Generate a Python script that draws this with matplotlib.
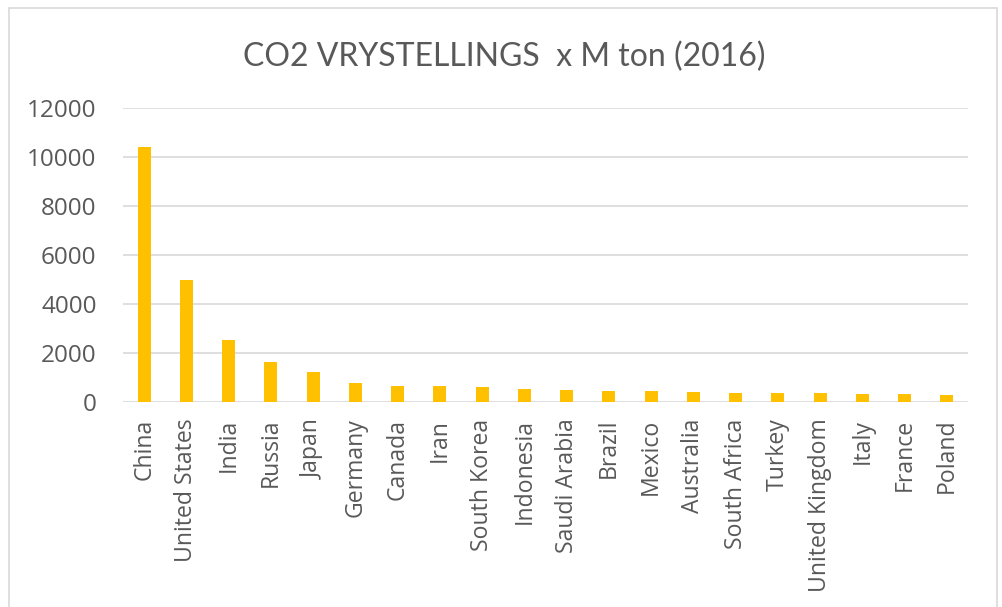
import matplotlib
matplotlib.use("Agg")
import matplotlib.pyplot as plt
from matplotlib.patches import Rectangle

countries = ["China", "United States", "India", "Russia", "Japan", "Germany",
             "Canada", "Iran", "South Korea", "Indonesia", "Saudi Arabia",
             "Brazil", "Mexico", "Australia", "South Africa", "Turkey",
             "United Kingdom", "Italy", "France", "Poland"]
emissions = [10400, 5000, 2520, 1650, 1220, 775, 670, 640, 600, 520,
             500, 455, 430, 400, 370, 355, 355, 330, 310, 280]
yticks = [0, 2000, 4000, 6000, 8000, 10000, 12000]
title = "CO2 VRYSTELLINGS  x M ton (2016)"

W, H = 1002, 607
fig = plt.figure(figsize=(W / 100, H / 100), dpi=100)
fig.patch.set_facecolor("white")

# outer chart border
fig.patches.append(Rectangle((9 / W, -0.05), (997 - 9) / W, 1.05 - 8 / H,
                             transform=fig.transFigure, fill=False,
                             edgecolor="#D9D9D9", linewidth=1.2))

ax = fig.add_axes([123 / W, 1 - 402 / H, (968 - 123) / W, (402 - 108) / H])
x = range(len(countries))
ax.bar(x, emissions, width=0.31, color="#FFC000", zorder=3)
ax.set_xlim(-0.5, len(countries) - 0.5)
ax.set_ylim(0, 12000)
ax.set_yticks(yticks)
ax.set_yticklabels([str(v) for v in yticks])
ax.set_xticks(list(x))
ax.set_xticklabels(countries, rotation=90)
ax.grid(axis="y", color="#D9D9D9", linewidth=1.2, zorder=0)
for s in ax.spines.values():
    s.set_visible(False)
ax.tick_params(axis="both", length=0, colors="#595959", labelsize=16.6)
ax.tick_params(axis="y", pad=19, labelsize=17.5)
ax.tick_params(axis="x", pad=12)
for lab in ax.get_xticklabels() + ax.get_yticklabels():
    lab.set_family("Open Sans")

fig.text(504 / W, 1 - 66.5 / H, title, ha="center", va="baseline",
         fontsize=23, color="#595959", family="Lato", fontweight="normal")

fig.savefig("out.png", dpi=100)
